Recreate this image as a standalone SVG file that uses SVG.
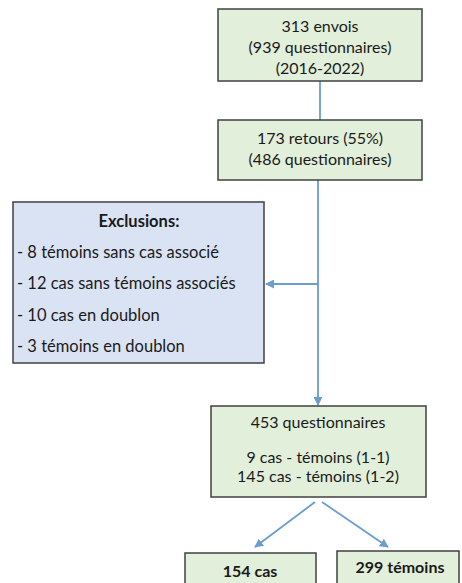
<svg xmlns="http://www.w3.org/2000/svg" width="462" height="583" viewBox="0 0 462 583">
<style>
.g{fill:#e2efda;stroke:#404040;stroke-width:1.5}
.b{fill:#dae3f3;stroke:#404040;stroke-width:1.5}
text{font-family:Lato,"Open Sans","Liberation Sans",sans-serif;font-size:16px;fill:#1a1a1a}
.c{text-anchor:middle}
.bold{font-weight:bold}
.ex{font-size:16.5px}
.ln{stroke:#6a9dd0;stroke-width:1.8;fill:none}
</style>
<defs>
<marker id="ah" viewBox="0 0 10 10" refX="9" refY="5" markerWidth="5" markerHeight="5" orient="auto" markerUnits="strokeWidth">
<path d="M0,0 L10,5 L0,10 z" fill="#6a9dd0"/>
</marker>
</defs>
<rect width="462" height="583" fill="#ffffff"/>
<g id="connectors">
<line class="ln" x1="320" y1="81" x2="320" y2="120"/>
<line class="ln" x1="318" y1="180" x2="318" y2="405" marker-end="url(#ah)"/>
<line class="ln" x1="318" y1="284" x2="266" y2="284" marker-end="url(#ah)"/>
<line class="ln" x1="315" y1="502" x2="255" y2="547" marker-end="url(#ah)"/>
<line class="ln" x1="322" y1="502" x2="388" y2="547" marker-end="url(#ah)"/>
</g>
<g id="envois">
<rect class="g" x="218" y="9" width="204" height="72"/>
<text class="c" x="320" y="32">313 envois</text>
<text class="c" x="320" y="53">(939 questionnaires)</text>
<text class="c" x="320" y="74">(2016-2022)</text>
</g>
<g id="retours">
<rect class="g" x="218" y="120" width="204" height="60"/>
<text class="c" x="320" y="144">173 retours (55%)</text>
<text class="c" x="320" y="165">(486 questionnaires)</text>
</g>
<g id="exclusions">
<rect class="b" x="13" y="202" width="251" height="161"/>
<text class="c bold ex" x="139" y="227">Exclusions:</text>
<text class="ex" x="17" y="258">- 8 témoins sans cas associé</text>
<text class="ex" x="17" y="289">- 12 cas sans témoins associés</text>
<text class="ex" x="17" y="321">- 10 cas en doublon</text>
<text class="ex" x="17" y="352">- 3 témoins en doublon</text>
</g>
<g id="questionnaires">
<rect class="g" x="211" y="406" width="215" height="91"/>
<text class="c" x="318" y="428">453 questionnaires</text>
<text class="c" x="318" y="463">9 cas - témoins (1-1)</text>
<text class="c" x="318" y="482">145 cas - témoins (1-2)</text>
</g>
<g id="cas">
<rect class="g" x="185" y="553" width="131" height="40"/>
<text class="c bold" x="250" y="577">154 cas</text>
</g>
<g id="temoins">
<rect class="g" x="337" y="551" width="122" height="42"/>
<text class="c bold" x="400" y="573">299 témoins</text>
</g>
</svg>
